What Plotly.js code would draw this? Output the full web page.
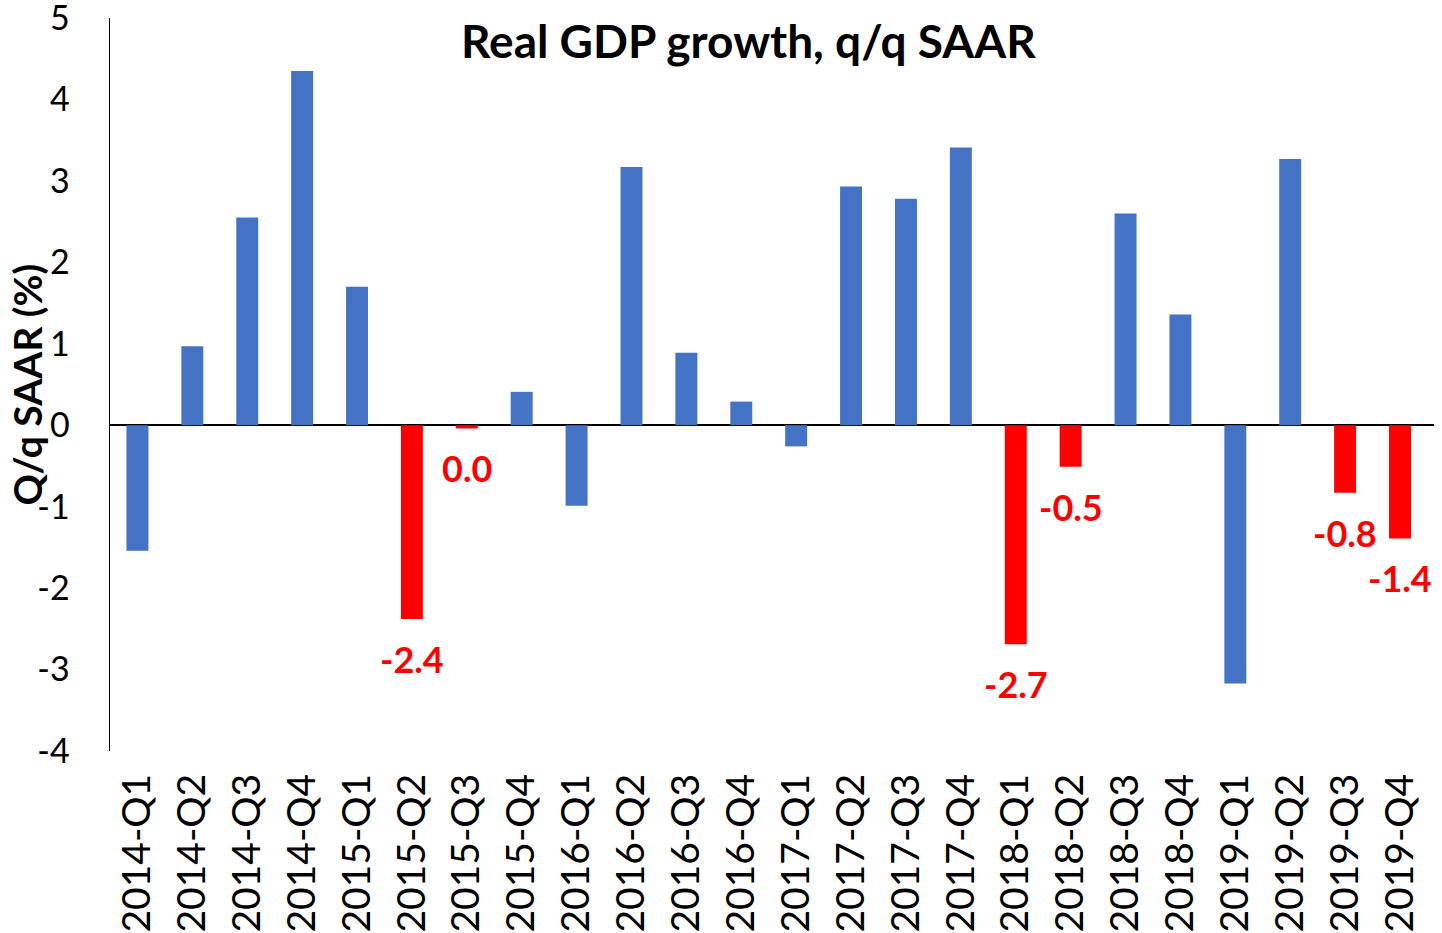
<!DOCTYPE html>
<html>
<head>
<meta charset="utf-8">
<script src="https://cdn.plot.ly/plotly-3.0.1.min.js"></script>
<style>html,body{margin:0;padding:0;background:#fff;}#chart{width:1442px;height:933px;}</style>
</head>
<body>
<div id="chart"></div>
<script>
const quarters = ["2014-Q1","2014-Q2","2014-Q3","2014-Q4","2015-Q1","2015-Q2","2015-Q3","2015-Q4",
  "2016-Q1","2016-Q2","2016-Q3","2016-Q4","2017-Q1","2017-Q2","2017-Q3","2017-Q4",
  "2018-Q1","2018-Q2","2018-Q3","2018-Q4","2019-Q1","2019-Q2","2019-Q3","2019-Q4"];
const growth = [-1.54, 0.97, 2.55, 4.35, 1.70, -2.38, -0.04, 0.41,
  -0.99, 3.17, 0.89, 0.29, -0.26, 2.93, 2.78, 3.41,
  -2.69, -0.51, 2.60, 1.36, -3.17, 3.27, -0.83, -1.39];
const highlighted = [false,false,false,false,false,true,true,false,
  false,false,false,false,false,false,false,false,
  true,true,false,false,false,false,true,true];
const labelText = {"2015-Q2":"-2.4","2015-Q3":"0.0","2018-Q1":"-2.7","2018-Q2":"-0.5","2019-Q3":"-0.8","2019-Q4":"-1.4"};
const yTicks = [-4,-3,-2,-1,0,1,2,3,4,5];
const yTitle = "Q/q SAAR (%)";
const chartTitle = "Real GDP growth, q/q SAAR";

const FONT = "Lato, 'Open Sans', sans-serif";
const colors = highlighted.map(h => h ? "#FF0000" : "#4472C4");

const trace = {
  type: "bar",
  x: quarters,
  y: growth,
  marker: {color: colors, line: {width: 0}},
  hoverinfo: "x+y"
};

const annotations = quarters.map((q, i) => labelText[q] ? {
  x: q, y: growth[i], xref: "x", yref: "y",
  text: "<b>" + labelText[q] + "</b>",
  showarrow: false, yanchor: "middle", xanchor: "center", yshift: -40,
  font: {family: FONT, size: 36, color: "#FF0000"}
} : null).filter(a => a);

annotations.push({
  text: "<b>" + yTitle + "</b>",
  xref: "paper", yref: "paper", x: 0, y: 0.5,
  xanchor: "center", yanchor: "middle", xshift: -84,
  textangle: -90, showarrow: false,
  font: {family: FONT, size: 39, color: "#000"}
});

const layout = {
  width: 1442, height: 933,
  margin: {l: 110, r: 8, t: 18, b: 182},
  paper_bgcolor: "#fff", plot_bgcolor: "#fff",
  bargap: 0.6,
  showlegend: false,
  title: {
    text: "<b>" + chartTitle + "</b>",
    x: 0.519, xanchor: "center", xref: "container",
    y: 0.955, yanchor: "middle", yref: "container",
    font: {family: FONT, size: 46, color: "#000"}
  },
  xaxis: {
    type: "category",
    tickangle: -90,
    ticks: "",
    showline: false,
    showgrid: false,
    zeroline: false,
    ticklabelstandoff: 14,
    tickfont: {family: FONT, size: 39, color: "#000"}
  },
  yaxis: {
    range: [-4, 5],
    tickvals: yTicks,
    ticktext: yTicks.map(String),
    ticks: "",
    ticklabeloverflow: "allow",
    showline: true, linecolor: "#000", linewidth: 1.5,
    showgrid: false,
    zeroline: true, zerolinecolor: "#000", zerolinewidth: 1.5,
    ticklabelstandoff: 32,
    tickfont: {family: FONT, size: 34, color: "#000"}
  },
  annotations: annotations
};

Plotly.newPlot("chart", [trace], layout, {displayModeBar: false, staticPlot: true});
</script>
</body>
</html>
